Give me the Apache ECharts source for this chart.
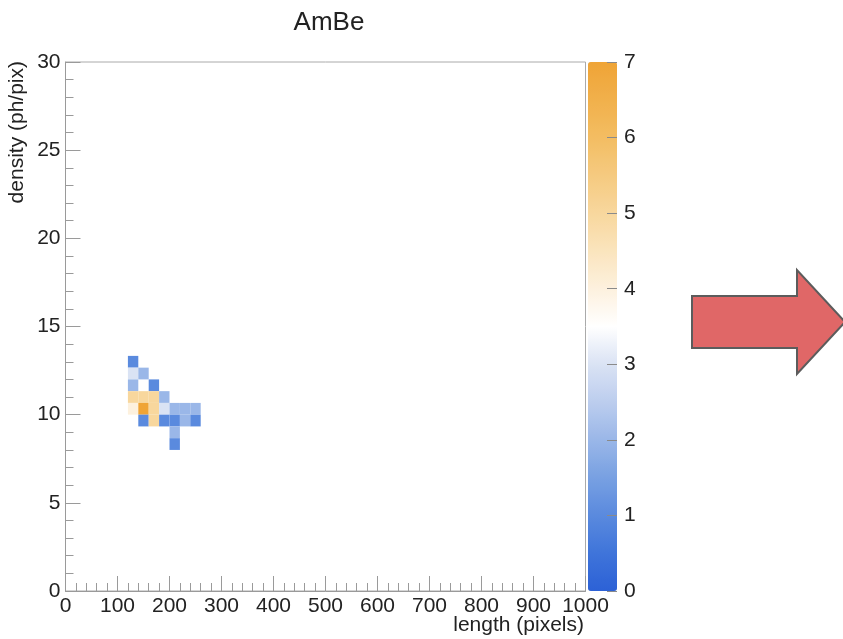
<!DOCTYPE html>
<html>
<head>
<meta charset="utf-8">
<script src="https://cdn.jsdelivr.net/npm/echarts@6/dist/echarts.min.js"></script>
<style>
  html, body { margin: 0; padding: 0; background: #fff; }
  #chart { width: 843px; height: 639px; }
</style>
</head>
<body>
<div id="chart"></div>
<script>
// AmBe cluster map: length vs. density, 50 x 45 bins (20 px by 2/3 ph/pix)
const X_BIN = 20;          // bin width along length (pixels)
const Y_BIN = 30 / 45;     // bin height along density (ph/pix)

// Filled bins: column index, row index, entries
const binCol   = [6,  6, 7,  6, 8,  6, 7, 8, 9,  6, 7, 8, 9, 10, 11, 12,  7, 8, 9, 10, 11, 12,  10,  10];
const binRow   = [19, 18, 18, 17, 17, 16, 16, 16, 16, 15, 15, 15, 15, 15, 15, 15, 14, 14, 14, 14, 14, 14, 13, 12];
const binCount = [1,  3, 2,  2, 1,  5, 5, 5, 2,  4, 7, 5, 3, 2, 2, 2,  1, 5, 1, 1, 2, 1,  2,  1];

const xTicks = [0, 100, 200, 300, 400, 500, 600, 700, 800, 900, 1000];
const yTicks = [0, 5, 10, 15, 20, 25, 30];
const zTicks = [0, 1, 2, 3, 4, 5, 6, 7];

const palette = ['#2c61d6', '#3f74da', '#5a8ade', '#78a0e2', '#9ab7e8', '#bccdee', '#dae3f4', '#ffffff',
                 '#fdf1de', '#fae4bd', '#f8d79d', '#f5ca80', '#f3bd62', '#f1b04b', '#efa436'];

const cells = binCol.map((c, i) => [c * X_BIN, binRow[i] * Y_BIN, binCount[i]]);

const FONT = 'Liberation Sans';
const GRAY = '#9a9a9a';
const plain = v => String(v);

const chart = echarts.init(document.getElementById('chart'), null, { renderer: 'canvas' });

chart.setOption({
  backgroundColor: '#ffffff',
  animation: false,
  title: {
    text: 'AmBe',
    left: 324,
    top: 5,
    textAlign: 'center',
    textStyle: { fontFamily: FONT, fontSize: 26, fontWeight: 'normal', color: '#222' }
  },
  grid: [
    { left: 65.5, top: 62, width: 520, height: 529, show: true, borderColor: '#aaaaaa', borderWidth: 1 },
    { left: 588, top: 62, width: 29, height: 529, show: false }
  ],
  xAxis: [
    {
      type: 'value', gridIndex: 0, min: xTicks[0], max: xTicks[xTicks.length - 1], interval: 100,
      axisLine: { show: true, lineStyle: { color: GRAY } },
      axisTick: { show: true, inside: true, length: 15, lineStyle: { color: GRAY } },
      minorTick: { show: true, splitNumber: 5, length: 8, lineStyle: { color: GRAY } },
      splitLine: { show: false },
      axisLabel: { fontFamily: FONT, fontSize: 21, color: '#222', margin: 5, formatter: plain }
    },
    { type: 'value', gridIndex: 1, min: 1, max: 2, show: false }
  ],
  yAxis: [
    {
      type: 'value', gridIndex: 0, min: yTicks[0], max: yTicks[yTicks.length - 1], interval: 5,
      axisLine: { show: true, lineStyle: { color: GRAY } },
      axisTick: { show: true, inside: true, length: 15, lineStyle: { color: GRAY } },
      minorTick: { show: true, splitNumber: 5, length: 8, lineStyle: { color: GRAY } },
      splitLine: { show: false },
      axisLabel: { fontFamily: FONT, fontSize: 21, color: '#222', margin: 5, formatter: plain }
    },
    {
      type: 'value', gridIndex: 1, position: 'right', min: zTicks[0], max: zTicks[zTicks.length - 1], interval: 1,
      z: 10,
      axisLine: { show: false, onZero: false },
      axisTick: { show: true, inside: true, length: 10, lineStyle: { color: '#8a8a8a' } },
      splitLine: { show: false },
      axisLabel: { fontFamily: FONT, fontSize: 21, color: '#222', margin: 7, formatter: plain }
    }
  ],
  visualMap: {
    type: 'continuous',
    seriesIndex: 0,
    dimension: 2,
    min: zTicks[0],
    max: zTicks[zTicks.length - 1],
    calculable: false,
    hoverLink: false,
    text: null,
    showLabel: false,
    left: 588,
    top: 62,
    padding: 0,
    itemWidth: 29,
    itemHeight: 529,
    inRange: { color: palette }
  },
  graphic: [
    {
      type: 'text',
      left: 7,
      top: 61,
      rotation: Math.PI / 2,
      style: { text: 'density (ph/pix)', fontFamily: FONT, fontSize: 21, fill: '#222' }
    },
    {
      type: 'text',
      right: 843 - 584,
      top: 615,
      style: { text: 'length (pixels)', fontFamily: FONT, fontSize: 21, fill: '#222' }
    },
    {
      type: 'polygon',
      shape: { points: [[692, 296], [797, 296], [797, 270], [845, 322], [797, 374], [797, 348], [692, 348]] },
      style: { fill: '#e06767', stroke: '#5c5c5c', lineWidth: 2 }
    }
  ],
  series: [
    {
      type: 'custom',
      xAxisIndex: 0,
      yAxisIndex: 0,
      data: cells,
      clip: true,
      renderItem: function (params, api) {
        const x0 = api.value(0);
        const y0 = api.value(1);
        const p0 = api.coord([x0, y0 + Y_BIN]);
        const p1 = api.coord([x0 + X_BIN, y0]);
        return {
          type: 'rect',
          shape: { x: p0[0], y: p0[1], width: p1[0] - p0[0], height: p1[1] - p0[1] },
          style: { fill: api.visual('color') }
        };
      }
    }
  ]
});
</script>
</body>
</html>
